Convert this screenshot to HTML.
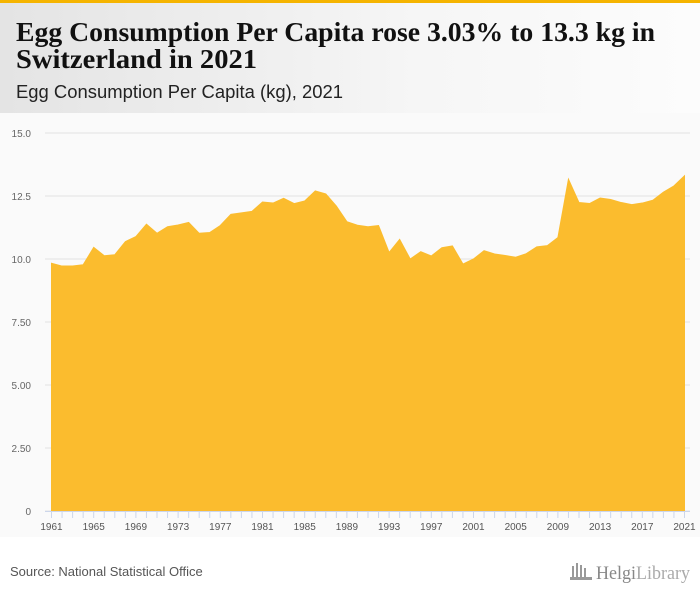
<!DOCTYPE html>
<html><head><meta charset="utf-8">
<style>
body{margin:0;width:700px;height:596px;overflow:hidden;background:#fff;font-family:"Liberation Sans",sans-serif}
</style></head>
<body>
<svg width="700" height="596" xmlns="http://www.w3.org/2000/svg">
<defs>
<linearGradient id="hg" x1="0" x2="1" y1="0" y2="0"><stop offset="0" stop-color="#e4e4e4"/><stop offset="0.6" stop-color="#f6f6f6"/><stop offset="1" stop-color="#fcfcfc"/></linearGradient>
</defs>
<rect x="0" y="0" width="700" height="113" fill="url(#hg)"/>
<rect x="0" y="0" width="700" height="3" fill="#f5b400"/>
<text x="16" y="41" font-family="Liberation Serif,serif" font-weight="bold" font-size="27" fill="#111" textLength="639" lengthAdjust="spacingAndGlyphs">Egg Consumption Per Capita rose 3.03% to 13.3 kg in</text>
<text x="16" y="68" font-family="Liberation Serif,serif" font-weight="bold" font-size="27" fill="#111" textLength="241" lengthAdjust="spacingAndGlyphs">Switzerland in 2021</text>
<text x="16" y="98" font-size="18" fill="#222" textLength="327" lengthAdjust="spacingAndGlyphs">Egg Consumption Per Capita (kg), 2021</text>
<rect x="0" y="113" width="700" height="424" fill="#fafafa"/>
<g id="grid"></g>
<g id="area"></g>
<g id="xaxis"></g>
<text x="10" y="576" font-size="13" fill="#555">Source: National Statistical Office</text>
<g>
<g fill="#999"><rect x="572" y="566" width="2" height="11"/><rect x="576" y="563" width="2" height="14"/><rect x="580" y="565" width="2" height="12"/><rect x="584" y="568" width="2" height="9"/><rect x="570" y="577" width="22" height="3"/></g>
<text x="596" y="579" font-family="Liberation Serif,serif" font-size="19" fill="#888" textLength="94" lengthAdjust="spacingAndGlyphs">Helgi<tspan fill="#aaa">Library</tspan></text>
</g>
</svg>
<script>
const years=[];for(let y=1961;y<=2021;y++)years.push(y);
const values=[9.83,9.72,9.72,9.77,10.46,10.13,10.17,10.69,10.89,11.38,11.02,11.28,11.35,11.45,11.02,11.05,11.33,11.77,11.83,11.89,12.26,12.22,12.41,12.2,12.3,12.7,12.58,12.1,11.48,11.34,11.28,11.33,10.26,10.78,10.0,10.29,10.12,10.45,10.52,9.8,10.0,10.33,10.2,10.14,10.07,10.21,10.48,10.53,10.85,13.17,12.24,12.2,12.42,12.36,12.24,12.16,12.22,12.33,12.65,12.9,13.3];
const yTicks=[0,2.5,5,7.5,10,12.5,15];
const yTickLabels=["0","2.50","5.00","7.50","10.0","12.5","15.0"];
const xLabelYears=[1961,1965,1969,1973,1977,1981,1985,1989,1993,1997,2001,2005,2009,2013,2017,2021];
const NS='http://www.w3.org/2000/svg';
const x0=51.5,x1=684.5,yb=511,yt=133,ymax=15;
const xs=y=>x0+(y-years[0])/(years[years.length-1]-years[0])*(x1-x0);
const ys=v=>yb-v/ymax*(yb-yt);
function mk(t,a){const e=document.createElementNS(NS,t);for(const k in a)e.setAttribute(k,a[k]);return e;}
const grid=document.getElementById('grid');
yTicks.forEach((v,i)=>{
 const l=mk('line',{x1:45,x2:690,y1:ys(v),y2:ys(v),stroke:'#e3e3e3','stroke-width':1});
 
 
 grid.appendChild(l);
 const t=mk('text',{x:31,y:ys(v)+4,'text-anchor':'end','font-size':10,fill:'#666'});
 t.textContent=yTickLabels[i];
 
 
 grid.appendChild(t);
});
let d='M'+xs(years[0])+','+ys(0);
years.forEach((y,i)=>{d+=' L'+xs(y)+','+ys(values[i]);});
d+=' L'+xs(years[years.length-1])+','+ys(0)+' Z';
const p=mk('path',{d:d,fill:'#fbbc2e',stroke:'#fbbc2e','stroke-width':1});


document.getElementById('area').appendChild(p);
const xa=document.getElementById('xaxis');
const al=mk('line',{x1:45,x2:690,y1:511.5,y2:511.5,stroke:'#ccd6eb'});


xa.appendChild(al);
years.forEach(y=>{
 const tk=mk('line',{x1:xs(y),x2:xs(y),y1:511,y2:518,stroke:'#ccd6eb'});
 
 
 xa.appendChild(tk);
});
xLabelYears.forEach(y=>{
 const t=mk('text',{x:xs(y),y:530,'text-anchor':'middle','font-size':10,fill:'#555'});
 t.textContent=y;
 
 
 xa.appendChild(t);
});
</script>
</body></html>
